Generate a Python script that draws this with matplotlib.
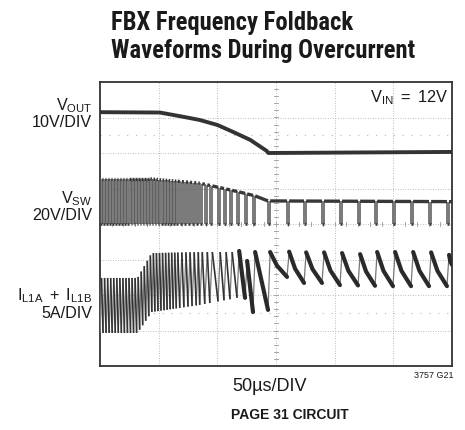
import numpy as np
import matplotlib
matplotlib.use('Agg')
import matplotlib.pyplot as plt
from matplotlib.collections import LineCollection

label_fams = ['Liberation Sans', 'DejaVu Sans']
title_fams = ['Roboto Condensed', 'Archivo Narrow', 'PT Sans Narrow', 'Liberation Sans', 'DejaVu Sans']
plt.rcParams['font.family'] = label_fams
plt.rcParams['mathtext.fontset'] = 'custom'
plt.rcParams['mathtext.rm'] = 'Liberation Sans'
plt.rcParams['mathtext.it'] = 'Liberation Sans'
plt.rcParams['mathtext.bf'] = 'Liberation Sans:bold'

# ---------------- data (time in us, 50us/div; vertical in screen divisions) -------------
t_span_us = 300
n_vdiv = 8

# VOUT trace (10V/DIV)
vout_t = [0, 51, 71, 85, 100, 113, 128, 142, 143.5, 300]
vout_div = [7.15, 7.14, 7.02, 6.93, 6.79, 6.60, 6.37, 6.06, 6.00, 6.03]

# VSW trace (20V/DIV): high-level envelope and low level
vsw_high_t = [0, 43, 85, 100, 119, 136, 143, 300]
vsw_high_div = [5.27, 5.27, 5.15, 5.04, 4.90, 4.76, 4.65, 4.63]
vsw_low_div = 4.0

# switching: dense region (segment bounds and period) then individual pulses
dense_seg_t = [0, 68, 85, 97]
dense_period_us = [2.6, 3.5, 4.3]
sparse_pulse_t = [100.6, 105.7, 110.8, 116.8, 123.6, 130.4, 143.2, 159.4, 173.9,
                  189.2, 204.5, 219.9, 234.4, 249.7, 265.1, 280.4, 295.7]
sparse_low_us = 1.8

# inductor current (5A/DIV): ripple envelope during fast switching
il_env_t = [0, 32, 44, 85, 117]
il_top_div = [2.48, 2.48, 3.18, 3.21, 3.21]
il_bot_div = [0.93, 0.93, 1.52, 1.72, 1.92]
# individual cycles after foldback (from pulse at 116.8us on)
il_valley_div = [1.92, 1.92, 1.52, 1.58, 2.51, 2.34, 2.34, 2.28, 2.27, 2.26, 2.25, 2.25, 2.25, 2.25]
il_peak_div = [3.24, 2.96, 3.21, 3.21, 3.22, 3.20, 3.20, 3.18, 3.15, 3.21, 3.21, 3.21, 3.20, 3.13]
il_knee_div = [2.71, 2.38, 2.56, 2.83, 2.74, 2.73, 2.69, 2.68, 2.66, 2.68, 2.68, 2.68, 2.68, 2.95]
il_end_div = 2.85
knee_pos = 0.4  # knee of each decay, fraction of the off time

# ---------------- figure -------------
W, H = 465, 430
fig = plt.figure(figsize=(W / 100, H / 100), dpi=100)
ax = fig.add_axes([100 / W, 64 / H, 352 / W, 284 / H])
ax.set_xlim(0, t_span_us)
ax.set_ylim(0, n_vdiv)
ax.set_xticks([])
ax.set_yticks([])
for s in ax.spines.values():
    s.set_color('#333333')
    s.set_linewidth(1.3)

# graticule
grid_kw = dict(color='#a8a8a8', lw=0.6, ls=(0, (1, 2)), zorder=1)
for i in range(1, 6):
    ax.axvline(i * 50, **grid_kw)
for j in range(1, n_vdiv):
    ax.axhline(j, **grid_kw)
for yv in (6.5, 1.5):
    ax.axhline(yv, color='#b5b5b5', lw=0.8, ls=(0, (1, 7)), zorder=1)
for v in np.arange(0.2, n_vdiv, 0.2):
    ax.plot([148.3, 151.7], [v, v], color='#999999', lw=0.6, zorder=1)
for tt in np.arange(10, t_span_us, 10):
    ax.plot([tt, tt], [3.94, 4.06], color='#999999', lw=0.6, zorder=1)

# pulse list
pulses = []
for t0, t1, per in zip(dense_seg_t[:-1], dense_seg_t[1:], dense_period_us):
    t = t0
    while t < t1 - 0.5:
        pulses.append((t, per / 2))
        t += per
for p in sparse_pulse_t:
    pulses.append((p, sparse_low_us))

hi = lambda t: np.interp(t, vsw_high_t, vsw_high_div)

# VSW
hi_segs, lo_segs, edge_segs = [], [], []
prev = 0.0
for p, w in pulses:
    if p > prev:
        hi_segs.append([(prev, hi(prev)), (p, hi(p))])
    edge_segs.append([(p, hi(p)), (p, vsw_low_div)])
    lo_segs.append([(p, vsw_low_div), (p + w, vsw_low_div)])
    edge_segs.append([(p + w, vsw_low_div), (p + w, hi(p + w))])
    prev = p + w
hi_segs.append([(prev, hi(prev)), (t_span_us, hi(t_span_us))])
ax.add_collection(LineCollection(edge_segs, colors='#5a5a5a', linewidths=1.15, zorder=3))
ax.add_collection(LineCollection(hi_segs, colors='#383838', linewidths=2.4, zorder=4))
ax.add_collection(LineCollection(lo_segs, colors='#383838', linewidths=1.9, zorder=4))

# inductor current
k0 = next(i for i, (p, w) in enumerate(pulses) if p >= 116.5)
valleys, peaks = [], []
for i, (p, w) in enumerate(pulses):
    if i < k0:
        valleys.append(np.interp(p, il_env_t, il_bot_div))
        peaks.append(np.interp(p + w, il_env_t, il_top_div))
    else:
        valleys.append(il_valley_div[i - k0])
        peaks.append(il_peak_div[i - k0])
rise_segs, fall_dense, fall_sparse = [], [], []
for i, (p, w) in enumerate(pulses):
    rise_segs.append([(p, valleys[i]), (p + w, peaks[i])])
    t_next = pulses[i + 1][0] if i + 1 < len(pulses) else t_span_us
    v_next = valleys[i + 1] if i + 1 < len(pulses) else il_end_div
    if i < k0:
        fall_dense.append([(p + w, peaks[i]), (t_next, v_next)])
    else:
        tk = p + w + knee_pos * (t_next - p - w)
        fall_sparse.append([(p + w, peaks[i]), (tk, il_knee_div[i - k0]), (t_next, v_next)])
ax.add_collection(LineCollection(rise_segs, colors='#777777', linewidths=0.9, zorder=3))
ax.add_collection(LineCollection(fall_dense, colors='#333333', linewidths=1.2, zorder=4))
ax.add_collection(LineCollection(fall_sparse, colors='#2a2a2a', linewidths=3.0, zorder=4,
                                 capstyle='round', joinstyle='round'))

# VOUT
ax.plot(vout_t, vout_div, color='#333333', lw=2.8, zorder=5, solid_capstyle='butt')

# ---------------- text -------------
fx = lambda x: x / W
fy = lambda y: 1 - y / H
ink = '#1a1a1a'
title_kw = dict(fontsize=17.7, fontweight='bold', color=ink, ha='left', va='baseline',
                family=title_fams)
fig.text(fx(111), fy(30), 'FBX Frequency Foldback', **title_kw)
fig.text(fx(111), fy(58), 'Waveforms During Overcurrent', **title_kw)

lab_kw = dict(fontsize=11.6, color=ink, ha='right', va='baseline')
fig.text(fx(92), fy(110), r'$\mathregular{V_{OUT}}$', **lab_kw)
fig.text(fx(92), fy(127), '10V/DIV', **lab_kw)
fig.text(fx(92), fy(203), r'$\mathregular{V_{SW}}$', **lab_kw)
fig.text(fx(92), fy(220), '20V/DIV', **lab_kw)
fig.text(fx(92), fy(300), r'$\mathregular{I_{L1A}\ +\ I_{L1B}}$', **lab_kw)
fig.text(fx(92), fy(318), '5A/DIV', **lab_kw)

fig.text(fx(448), fy(102), r'$\mathregular{V_{IN}\ =\ 12V}$', fontsize=11.8,
         color=ink, ha='right', va='baseline')
fig.text(fx(270), fy(391), '50µs/DIV', fontsize=13, color=ink, ha='center', va='baseline')
fig.text(fx(453), fy(378), '3757 G21', fontsize=6.4, color=ink, ha='right', va='baseline')
fig.text(fx(290), fy(419), 'PAGE 31 CIRCUIT', fontsize=10, fontweight='bold',
         color=ink, ha='center', va='baseline')

fig.savefig('out.png', dpi=100)
